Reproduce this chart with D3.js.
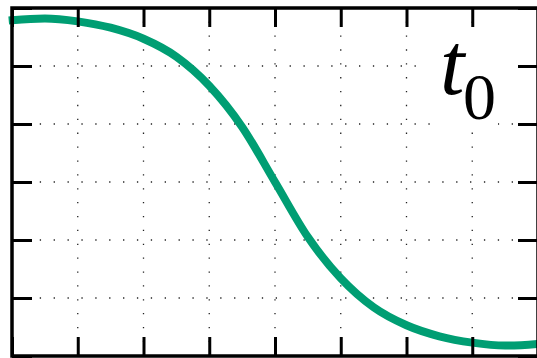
<!DOCTYPE html>
<html>
<head>
<meta charset="utf-8">
<script src="https://cdn.jsdelivr.net/npm/d3@7"></script>
<style>
  html, body { margin: 0; padding: 0; background: #fff; }
  svg { display: block; }
</style>
</head>
<body>
<svg id="chart" width="537" height="358"></svg>
<script>
// Tick positions along each axis (no labels are drawn)
const xTicks = [0, 1, 2, 3, 4, 5, 6, 7, 8];
const yTicks = [0, 1, 2, 3, 4, 5, 6];

// Sampled curve t0
const curveX = [-0.05, 0, 0.5, 1, 1.5, 2, 2.5, 3, 3.5, 4, 4.5, 5, 5.5, 6, 6.5, 7, 7.5, 8, 8.05];
const curveY = [5.785, 5.79, 5.82, 5.77, 5.66, 5.47, 5.16, 4.66, 3.95, 3.00, 2.05, 1.34, 0.84, 0.53, 0.34, 0.23, 0.18, 0.21, 0.215];

const labelMain = "t";
const labelSub = "0";

const svg = d3.select("#chart");
const plotLeft = 12, plotRight = 538, plotTop = 8, plotBottom = 356;

const x = d3.scaleLinear().domain([0, 8]).range([plotLeft, plotRight]);
const y = d3.scaleLinear().domain([0, 6]).range([plotBottom, plotTop]);

// Dotted grid
const grid = svg.append("g")
  .attr("stroke", "#222")
  .attr("stroke-width", 1.3)
  .attr("stroke-dasharray", "1.3 12.58");

grid.selectAll("line.v")
  .data(xTicks.slice(1, -1))
  .join("line")
  .attr("class", "v")
  .attr("x1", d => x(d)).attr("x2", d => x(d))
  .attr("y1", y(0)).attr("y2", y(6));

grid.selectAll("line.h")
  .data(yTicks.slice(1, -1))
  .join("line")
  .attr("class", "h")
  .attr("x1", x(0)).attr("x2", x(8))
  .attr("y1", d => y(d)).attr("y2", d => y(d));

// White backing behind the label
svg.append("rect")
  .attr("x", 418).attr("y", 26).attr("width", 100).attr("height", 92)
  .attr("fill", "#fff");
svg.append("rect")
  .attr("x", 442).attr("y", 100).attr("width", 56).attr("height", 29)
  .attr("fill", "#fff");

// Curve
const pts = curveX.map((d, i) => [d, curveY[i]]);
svg.append("path")
  .datum(pts)
  .attr("fill", "none")
  .attr("stroke", "#009E73")
  .attr("stroke-width", 8)
  .attr("d", d3.line()
    .x(d => x(d[0]))
    .y(d => y(d[1]))
    .curve(d3.curveMonotoneX));

// Inward ticks on all four sides
function styleAxis(g) {
  g.select(".domain").remove();
  g.selectAll(".tick line").attr("stroke", "#000").attr("stroke-width", 3);
  g.selectAll(".tick text").remove();
}
const tickLen = 19;
svg.append("g").attr("transform", `translate(0,${plotBottom})`)
  .call(d3.axisBottom(x).tickValues(xTicks).tickSizeInner(-tickLen).tickSizeOuter(0).tickFormat(""))
  .call(styleAxis);
svg.append("g").attr("transform", `translate(0,${plotTop})`)
  .call(d3.axisTop(x).tickValues(xTicks).tickSizeInner(-tickLen).tickSizeOuter(0).tickFormat(""))
  .call(styleAxis);
svg.append("g").attr("transform", `translate(${plotLeft},0)`)
  .call(d3.axisLeft(y).tickValues(yTicks).tickSizeInner(-20).tickSizeOuter(0).tickFormat(""))
  .call(styleAxis);
svg.append("g").attr("transform", `translate(${plotRight},0)`)
  .call(d3.axisRight(y).tickValues(yTicks).tickSizeInner(-20).tickSizeOuter(0).tickFormat(""))
  .call(styleAxis);

// Frame
svg.append("rect")
  .attr("x", plotLeft).attr("y", plotTop)
  .attr("width", plotRight - plotLeft).attr("height", plotBottom - plotTop)
  .attr("fill", "none").attr("stroke", "#000").attr("stroke-width", 3.5);

// Label t0: italic t with an upright subscript 0
const label = svg.append("g")
  .attr("font-family", "'Liberation Serif', 'Times New Roman', serif")
  .attr("fill", "#000");
label.append("text")
  .attr("x", 440).attr("y", 94)
  .attr("font-size", 88)
  .attr("font-style", "italic")
  .text(labelMain);
label.append("text")
  .attr("x", 463).attr("y", 119)
  .attr("font-size", 66)
  .text(labelSub);
</script>
</body>
</html>
